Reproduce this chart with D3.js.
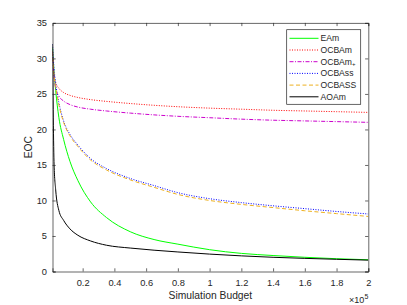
<!DOCTYPE html>
<html><head><meta charset="utf-8">
<script src="https://cdn.jsdelivr.net/npm/d3@7"></script>
<style>
html,body{margin:0;padding:0;background:#fff;}
svg text{font-family:"Liberation Sans",Arial,Helvetica,sans-serif;fill:#262626;}
</style></head>
<body><svg id="c" width="407" height="305"></svg>
<script>
// Simulation budget (x 1e5)
const budget = [0.01,0.02,0.03,0.05,0.08,0.12,0.17,0.25,0.35,0.5,0.65,0.8,1.0,1.2,1.4,1.6,1.8,2.0];
const EAm    = [31.5,28,25.5,21.7,18.6,15.5,12.8,9.8,7.6,5.6,4.5,3.85,3.07,2.55,2.25,2.0,1.8,1.65];
const OCBAm  = [30.5,27.5,26.6,25.8,25.2,24.8,24.5,24.2,23.95,23.65,23.4,23.2,23.0,22.85,22.7,22.6,22.5,22.4];
const OCBAmP = [31,27.5,25.8,24.7,24.0,23.5,23.15,22.85,22.6,22.3,22.05,21.85,21.65,21.45,21.3,21.2,21.1,21.0];
const OCBAss = [32,28.5,26.5,23.8,21.2,19.3,17.8,15.9,14.5,13.1,12.1,11.1,10.25,9.7,9.25,8.85,8.45,8.1];
const OCBASS = [31,27.5,26,23.5,21.0,19.1,17.6,15.7,14.3,12.9,11.85,10.85,10.0,9.45,9.0,8.55,8.15,7.75];
const AOAm   = [32,15,11.5,8.6,7.2,6.0,5.1,4.3,3.7,3.3,3.0,2.75,2.45,2.2,2.0,1.85,1.72,1.6];
const xTicks = [0.2,0.4,0.6,0.8,1,1.2,1.4,1.6,1.8,2];
const yTicks = [0,5,10,15,20,25,30,35];

const series = [
  {name:"EAm", vals:EAm, color:"#00ff00", dash:null},
  {name:"OCBAm", vals:OCBAm, color:"#ff0000", dash:"1,1.5"},
  {name:"OCBAm", sub:"+", vals:OCBAmP, color:"#cc00cc", dash:"4,1.5,1,1.5"},
  {name:"OCBAss", vals:OCBAss, color:"#0000ff", dash:"1,1.5"},
  {name:"OCBASS", vals:OCBASS, color:"#edb120", dash:"4,2.5"},
  {name:"AOAm", vals:AOAm, color:"#000000", dash:null}
];

const L=52.5, R=368.3, T=22.9, B=271.5;
const svg = d3.select("#c");
const x = d3.scaleLinear().domain([0.01,2]).range([L,R]);
const y = d3.scaleLinear().domain([0,35]).range([B,T]);
const axc = "#262626";

const g = svg.append("g");
svg.append("clipPath").attr("id","cp").append("rect").attr("x",L).attr("y",T).attr("width",R-L).attr("height",B-T);
const line = d3.line().x((d,i)=>x(budget[i])).y(d=>y(d)).curve(d3.curveMonotoneX);
series.forEach(s=>{
  g.append("path").attr("d",line(s.vals)).attr("fill","none")
   .attr("stroke",s.color).attr("stroke-width",1)
   .attr("stroke-dasharray",s.dash).attr("clip-path","url(#cp)");
});

// axes
const tl=3.2;
const xb = svg.append("g").attr("transform",`translate(0,${B})`)
  .call(d3.axisBottom(x).tickValues(xTicks).tickSize(-tl).tickPadding(7.5).tickFormat(d3.format("~g")));
const xt = svg.append("g").attr("transform",`translate(0,${T})`)
  .call(d3.axisTop(x).tickValues(xTicks).tickSize(-tl).tickFormat(""));
const yl = svg.append("g").attr("transform",`translate(${L},0)`)
  .call(d3.axisLeft(y).tickValues(yTicks).tickSize(-tl).tickPadding(5.5));
const yr = svg.append("g").attr("transform",`translate(${R},0)`)
  .call(d3.axisRight(y).tickValues(yTicks).tickSize(-tl).tickFormat(""));
[xb,xt,yl,yr].forEach(a=>{
  a.selectAll("path").attr("stroke",axc).attr("stroke-width",0.7);
  a.selectAll("line").attr("stroke",axc).attr("stroke-width",0.7);
  a.selectAll("text").style("font-family","'Liberation Sans',Arial,sans-serif").style("font-size","9.3px").attr("fill",axc);
});

// labels
svg.append("text").attr("x",(L+R)/2).attr("y",299).attr("text-anchor","middle")
  .style("font-size","10.3px").text("Simulation Budget");
svg.append("text").attr("transform",`translate(32,${(T+B)/2}) rotate(-90)`).attr("text-anchor","middle")
  .style("font-size","10.3px").text("EOC");
const ex = svg.append("text").attr("x",R).attr("y",302.5).attr("text-anchor","end").style("font-size","9px");
ex.append("tspan").text("×10");
ex.append("tspan").attr("dy",-4).style("font-size","7px").text("5");

// legend
const lx=286.7, ly=29.7, lw=74, lh=74.6;
svg.append("rect").attr("x",lx).attr("y",ly).attr("width",lw).attr("height",lh)
  .attr("fill","#fff").attr("stroke",axc).attr("stroke-width",0.7);
series.forEach((s,i)=>{
  const yy = ly+8.6+i*11.7;
  svg.append("line").attr("x1",289.5).attr("x2",318.5).attr("y1",yy).attr("y2",yy)
    .attr("stroke",s.color).attr("stroke-width",1).attr("stroke-dasharray",s.dash);
  const t = svg.append("text").attr("x",320.5).attr("y",yy+3).style("font-size","8.6px").attr("fill","#000");
  t.append("tspan").text(s.name);
  if(s.sub){ t.append("tspan").attr("dy",1.5).style("font-size","6px").text(s.sub); }
});
</script></body></html>
